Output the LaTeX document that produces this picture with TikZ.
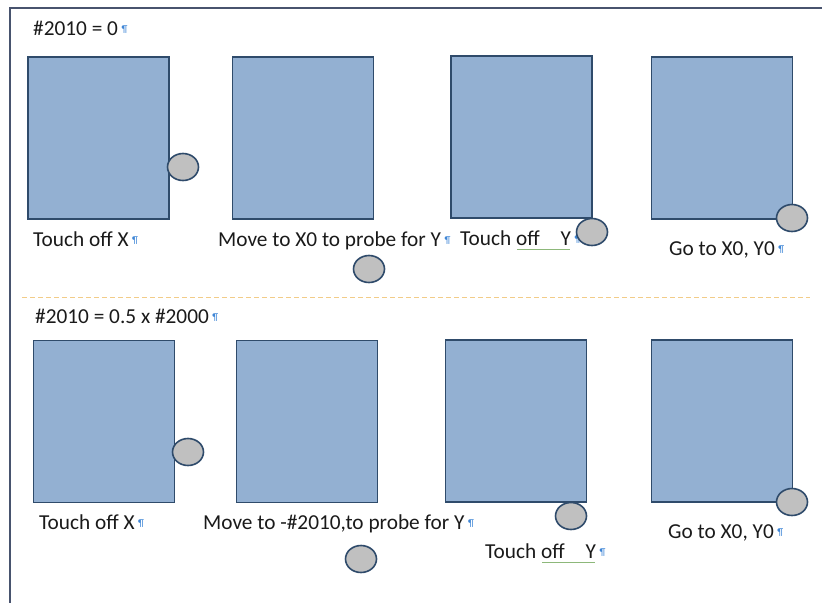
\documentclass[tikz,border=0pt]{standalone}
\usepackage{fontspec}
\setmainfont{Carlito}
\usetikzlibrary{shapes.geometric}
\definecolor{boxfill}{HTML}{93B0D2}
\definecolor{boxline}{HTML}{2F4B6B}
\definecolor{probefill}{HTML}{C0C0C0}
\definecolor{frameline}{HTML}{48536E}
\definecolor{sepline}{HTML}{F2CC88}
\definecolor{markblue}{HTML}{3F86D6}
\definecolor{textc}{HTML}{1A1A1A}
\definecolor{spellgreen}{HTML}{8DB87A}
\newcommand{\pil}{\,{\color{markblue}\fontsize{10}{10}\selectfont\raisebox{2.5pt}{¶}}}
\begin{document}
\begin{tikzpicture}[x=1pt,y=-1pt,
  partbox/.style={rectangle, draw=boxline, fill=boxfill, line width=1.8pt, minimum width=141pt, minimum height=162pt, inner sep=0pt},
  probe/.style={ellipse, draw=boxline, fill=probefill, line width=1.6pt, minimum width=31pt, minimum height=27pt, inner sep=0pt},
  lbl/.style={anchor=base west, inner sep=0pt, text=textc, font=\fontsize{21.3}{24}\selectfont}
]
\useasboundingbox (0,0) rectangle (822,603);
% frame
\coordinate (fa) at (822,8);
\coordinate (fb) at (10,8);
\coordinate (fc) at (10,603);
\draw[frameline, line width=2.4pt] (fa) -- (fb) -- (fc);
% separator
\coordinate (sa) at (22,297.5);
\coordinate (sb) at (810,297.5);
\draw[sepline, line width=1.8pt, dash pattern=on 5pt off 3pt] (sa) -- (sb);

% top row
\node[lbl] (t1) at (33,35) {\#2010 = 0\pil};
\node[partbox] (b1) at (98.5,138) {};
\node[partbox] (b2) at (303,138) {};
\node[partbox] (b3) at (521.5,137) {};
\node[partbox] (b4) at (722,138) {};
\node[lbl] (l1) at (33,246) {Touch off X\pil};
\node[lbl] (l2) at (218,246) {Move to X0 to probe for Y\pil};
\node[lbl] (l3) at (460,245) {Touch off\hspace{21pt}Y\pil};
\node[lbl] (l4) at (669,255) {Go to X0, Y0\pil};
\coordinate (u1a) at (517,249);
\coordinate (u1b) at (570,249);
\draw[spellgreen, line width=0.8pt] (u1a) -- (u1b);
\node[probe] (c1) at (183,167) {};
\node[probe] (c2) at (369,269) {};
\node[probe] (c3) at (592,232) {};
\node[probe] (c4) at (792,218) {};

% bottom row
\node[lbl] (t2) at (35,323) {\#2010 = 0.5 x \#2000\pil};
\node[partbox] (b5) at (104,421.5) {};
\node[partbox] (b6) at (307,421.5) {};
\node[partbox] (b7) at (516,421) {};
\node[partbox] (b8) at (722,421) {};
\node[lbl] (l5) at (39,529) {Touch off X\pil};
\node[lbl] (l6) at (203,529) {Move to -\#2010,to probe for Y\pil};
\node[lbl] (l7) at (485,558) {Touch off\hspace{21pt}Y\pil};
\node[lbl] (l8) at (668,538) {Go to X0, Y0\pil};
\coordinate (u2a) at (542,562);
\coordinate (u2b) at (595,562);
\draw[spellgreen, line width=0.8pt] (u2a) -- (u2b);
\node[probe] (c5) at (188,452) {};
\node[probe] (c6) at (361,559) {};
\node[probe] (c7) at (571,516) {};
\node[probe] (c8) at (792,502) {};
\end{tikzpicture}
\end{document}
